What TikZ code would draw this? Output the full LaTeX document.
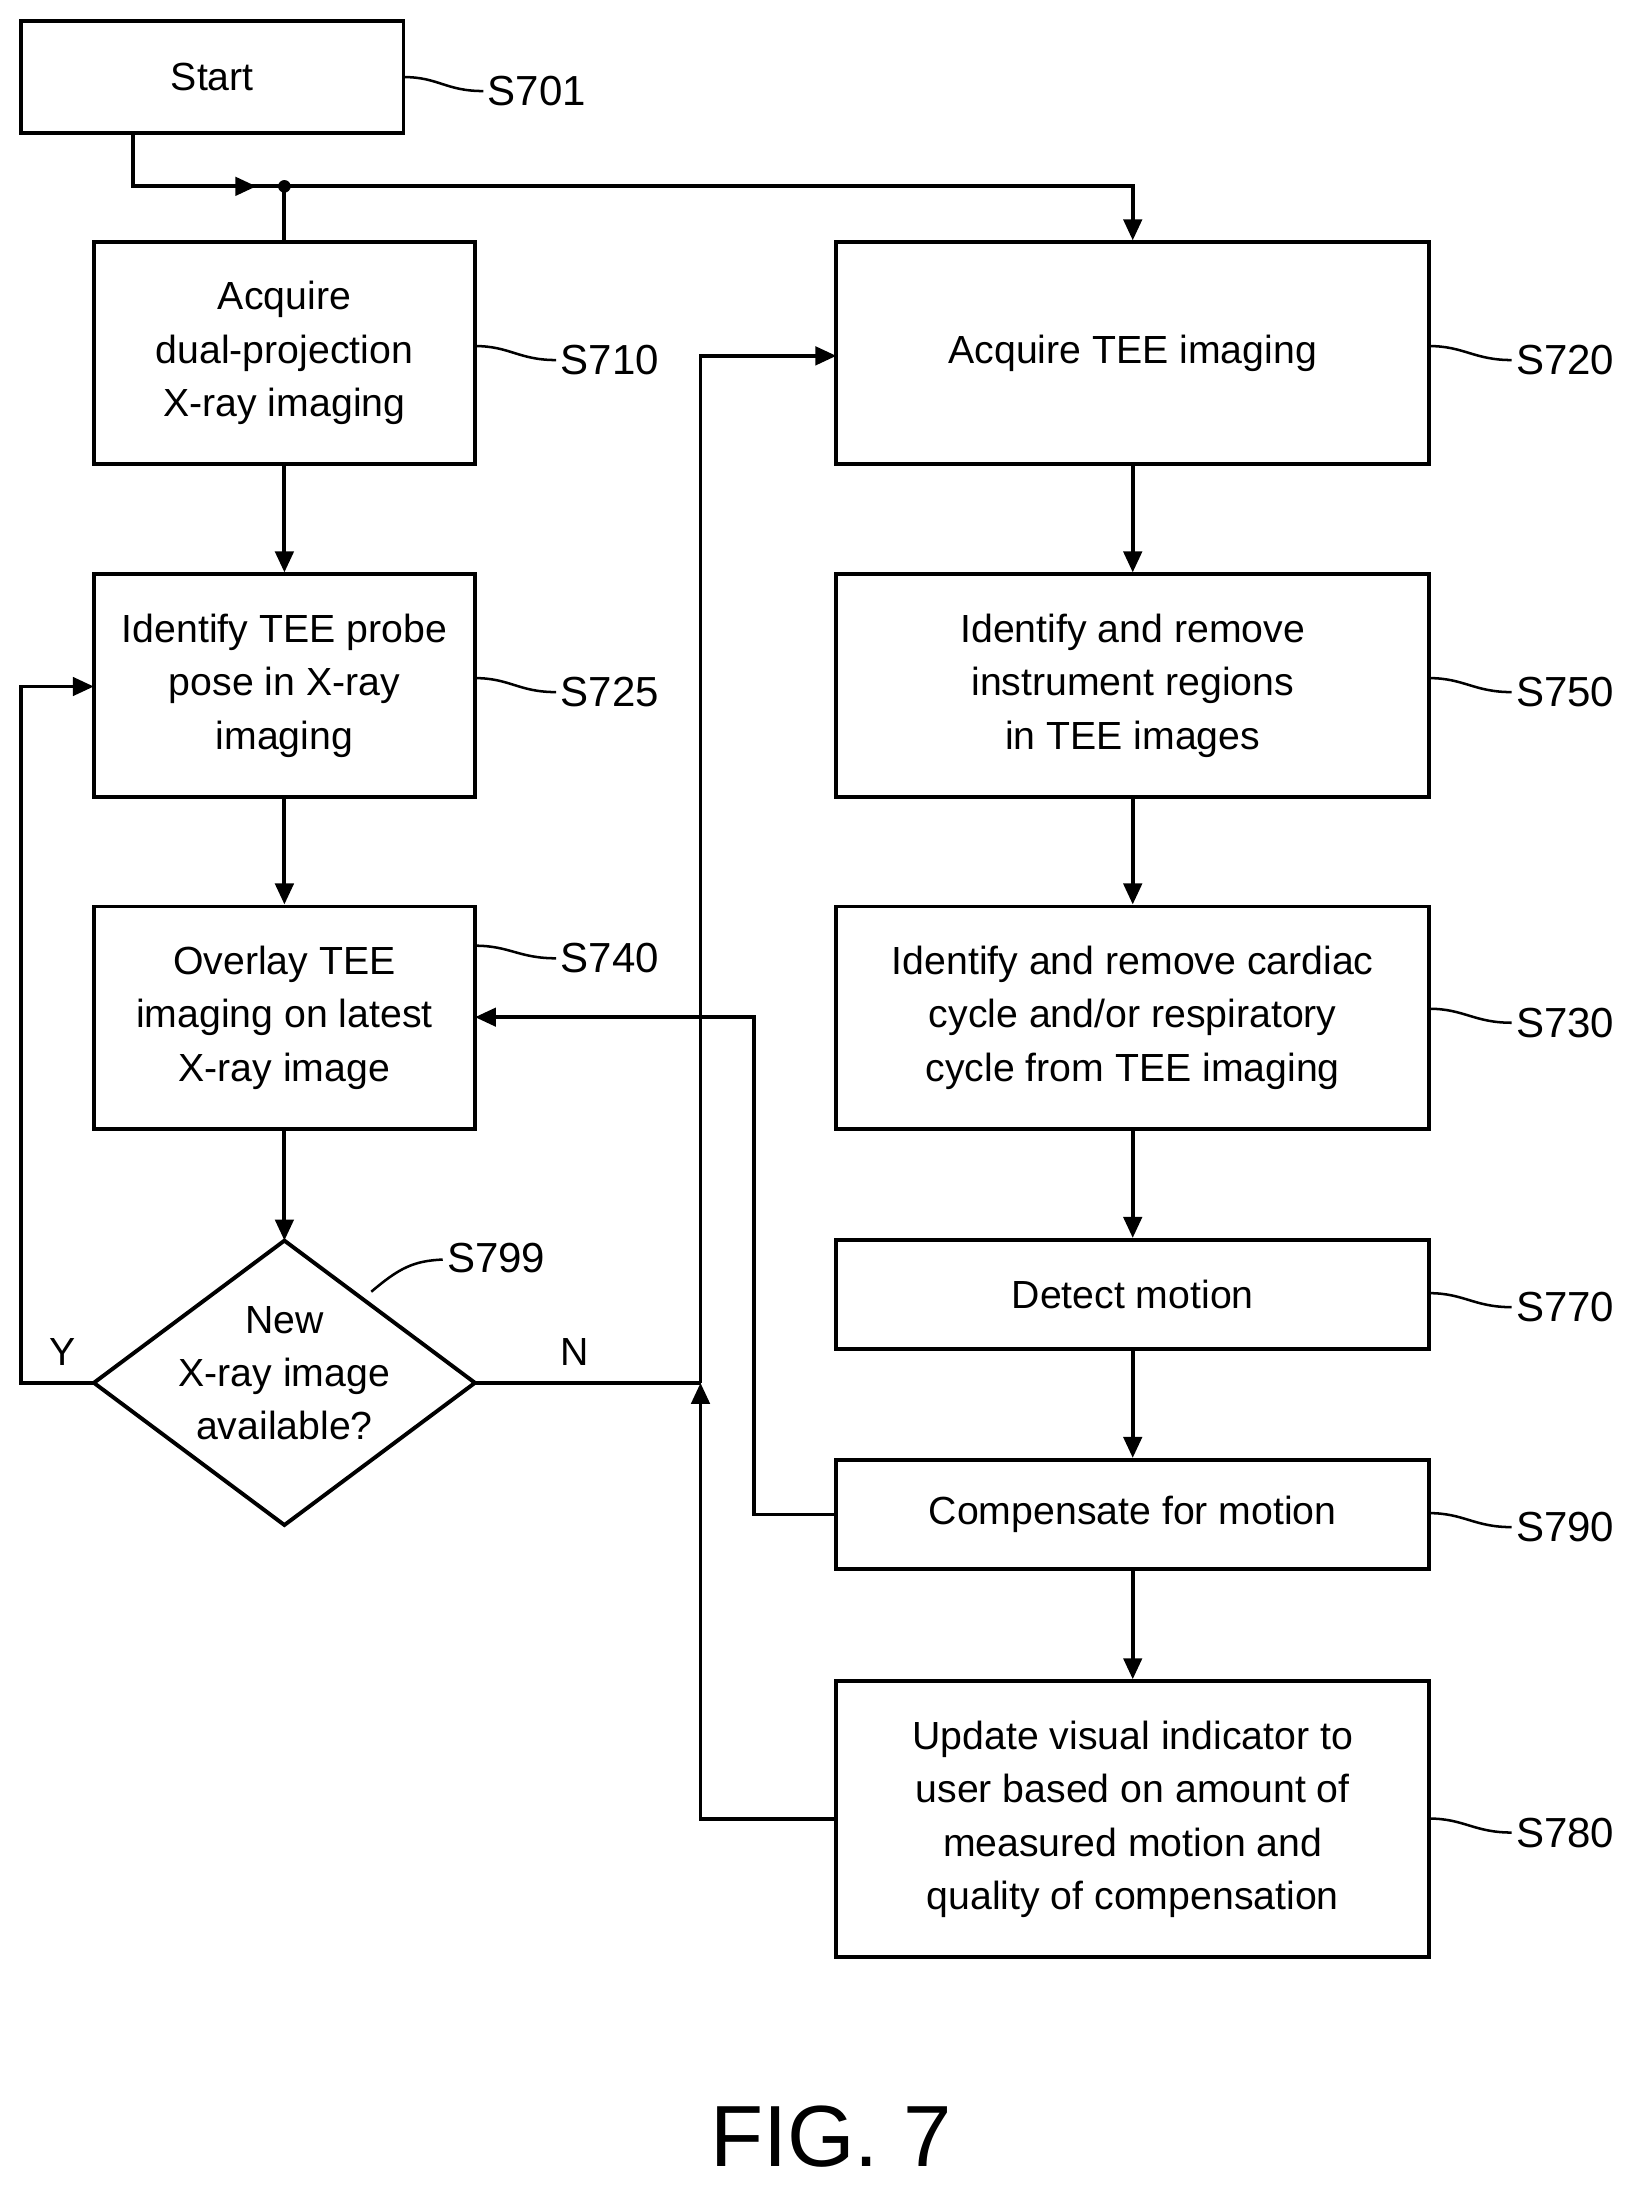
\documentclass[tikz,border=0pt]{standalone}
\usepackage{fontspec}
\setmainfont{Liberation Sans}
\usetikzlibrary{shapes.geometric,arrows.meta}
\begin{document}
\begin{tikzpicture}[x=1pt,y=-1pt,
 box/.style={draw,line width=2.8pt,inner sep=0pt,align=center,font=\fontsize{28}{38}\selectfont},
 lbl/.style={font=\fontsize{30}{36}\selectfont,anchor=west,inner sep=0pt},
 ln/.style={line width=2.8pt},
 ar/.style={ln,-{Triangle[length=15pt,width=13pt]}}]
\useasboundingbox (0,0) rectangle (1172,1566);
\newcommand{\bx}[6]{\node[box,minimum width=#3-#2,minimum height=#5-#4] (#1) at ({(#2+#3)/2},{(#4+#5)/2}) {#6};}
\bx{s701}{15}{288}{15}{95}{Start}
\bx{s710}{67}{339}{173}{331}{Acquire\\dual-projection\\X-ray imaging}
\bx{s725}{67}{339}{410}{569}{Identify TEE probe\\pose in X-ray\\imaging}
\bx{s740}{67}{339}{647}{806}{Overlay TEE\\imaging on latest\\X-ray image}
\node[draw,ln,diamond,minimum width=272pt,minimum height=203pt,inner sep=0pt,outer sep=0pt] (s799) at (203,987) {};
\node[align=center,font=\fontsize{28}{38}\selectfont] (s799t) at (203,980) {New\\X-ray image\\available?};
\bx{s720}{597}{1020}{173}{331}{Acquire TEE imaging}
\bx{s750}{597}{1020}{410}{569}{Identify and remove\\instrument regions\\in TEE images}
\bx{s730}{597}{1020}{647}{806}{Identify and remove cardiac\\cycle and/or respiratory\\cycle from TEE imaging}
\bx{s770}{597}{1020}{885}{963}{Detect motion}
\bx{s790}{597}{1020}{1042}{1120}{Compensate for motion}
\bx{s780}{597}{1020}{1200}{1397}{Update visual indicator to\\user based on amount of\\measured motion and\\quality of compensation}
% labels
\newcommand{\lab}[5]{\draw[line width=1.8pt] (#1,#2) .. controls (#1+25,#2) and (#3-30,#4) .. (#3-3,#4); \node[lbl] at (#3,#4) {#5};}
\lab{288}{55}{348}{65}{S701}
\lab{339}{247}{400}{257}{S710}
\lab{339}{484}{400}{494}{S725}
\lab{339}{675}{400}{684}{S740}
\lab{1020}{247}{1082}{257}{S720}
\lab{1020}{484}{1082}{494}{S750}
\lab{1020}{720}{1082}{730}{S730}
\lab{1020}{923}{1082}{933}{S770}
\lab{1020}{1080}{1082}{1090}{S790}
\lab{1020}{1298}{1082}{1308}{S780}
\draw[line width=1.8pt] (265,922) .. controls (285,905) and (295,900) .. (316,899);
\node[lbl] at (319,898) {S799};
% connectors
\coordinate (j) at (203,133);
\draw[ln] (s701.south -| 95,0) |- (j);
\draw[ar] (95,133) -- (183,133);
\fill (j) circle (4.5pt);
\draw[ln] (j) -- (s710.north);
\draw[ar] (j) -| (s720.north);
\draw[ar] (s710) -- (s725);
\draw[ar] (s725) -- (s740);
\draw[ar] (s740) -- (s799.north);
\draw[ar] (s799.west) -- (15,987) |- (67,490);
\node[font=\fontsize{28}{34}\selectfont] at (45,965) {Y};
\node[font=\fontsize{28}{34}\selectfont] at (410,965) {N};
\draw[ln] (s799.east) -- (500,987);
\draw[ar] (500,987) |- (597,254);
\draw[ar] (s780.west) -| (500,987);
\draw[ar] (s720) -- (s750);
\draw[ar] (s750) -- (s730);
\draw[ar] (s730) -- (s770);
\draw[ar] (s770) -- (s790);
\draw[ar] (s790) -- (s780);
\draw[ar] (s790.west) -- (538,1081) |- (339,726);
\node[font=\fontsize{62}{70}\selectfont] (fig) at (593,1525) {FIG. 7};
\end{tikzpicture}
\end{document}
